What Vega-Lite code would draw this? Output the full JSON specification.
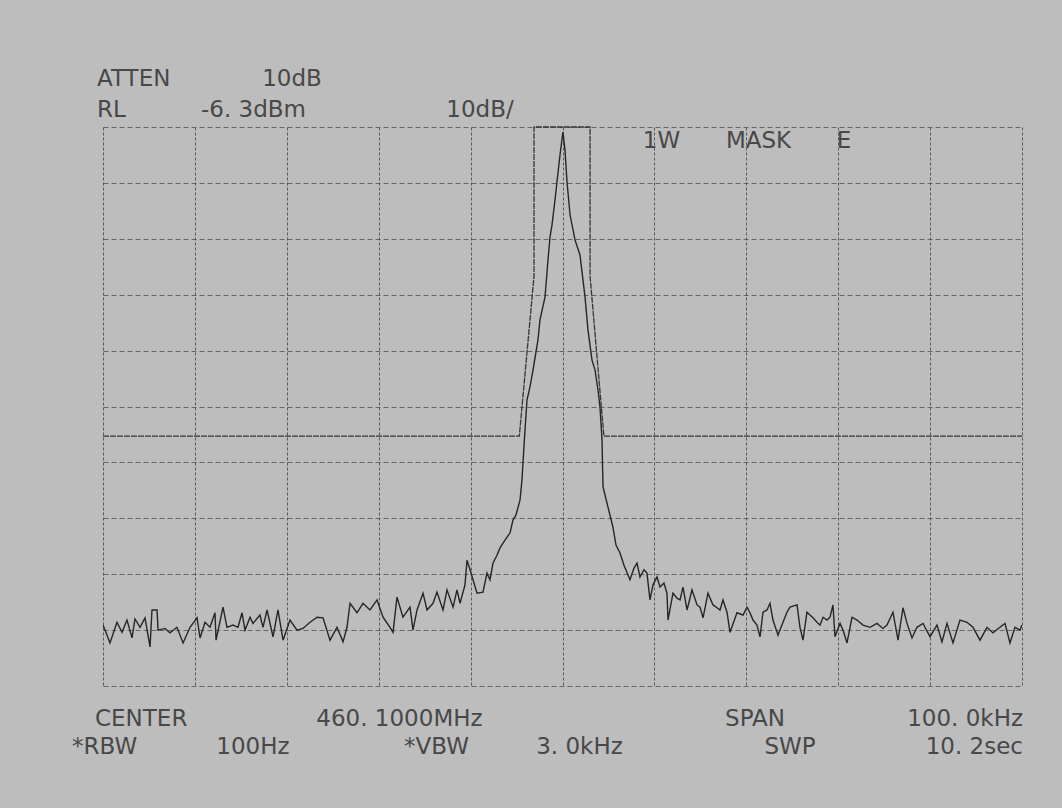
{
  "$schema": "https://vega.github.io/schema/vega-lite/v6.json",
  "width": 919,
  "height": 559,
  "autosize": "none",
  "padding": {"left": 103, "top": 127, "right": 40, "bottom": 122},
  "background": "#bdbdbd",
  "config": {
    "view": {"stroke": null},
    "text": {"font": "DejaVu Sans", "fontSize": 23, "color": "#484848", "baseline": "alphabetic"}
  },
  "datasets": {
    "trace": [
      {"khz": -50.00, "dbm": -95.4}, {"khz": -49.78, "dbm": -96.3}, {"khz": -49.24, "dbm": -98.6}, {"khz": -48.48, "dbm": -94.9},
      {"khz": -47.93, "dbm": -96.7}, {"khz": -47.39, "dbm": -94.5}, {"khz": -46.84, "dbm": -97.7}, {"khz": -46.52, "dbm": -94.3},
      {"khz": -45.97, "dbm": -95.8}, {"khz": -45.43, "dbm": -94.1}, {"khz": -44.88, "dbm": -99.3}, {"khz": -44.67, "dbm": -92.7},
      {"khz": -44.12, "dbm": -92.7}, {"khz": -44.01, "dbm": -96.3}, {"khz": -43.25, "dbm": -96.0}, {"khz": -42.71, "dbm": -96.8},
      {"khz": -41.95, "dbm": -95.8}, {"khz": -41.29, "dbm": -98.6}, {"khz": -40.53, "dbm": -95.8}, {"khz": -39.77, "dbm": -94.1},
      {"khz": -39.44, "dbm": -97.7}, {"khz": -38.90, "dbm": -94.9}, {"khz": -38.36, "dbm": -95.8}, {"khz": -37.81, "dbm": -93.2},
      {"khz": -37.70, "dbm": -98.1}, {"khz": -36.94, "dbm": -92.2}, {"khz": -36.51, "dbm": -95.8}, {"khz": -35.85, "dbm": -95.4},
      {"khz": -35.31, "dbm": -95.8}, {"khz": -34.87, "dbm": -93.2}, {"khz": -34.55, "dbm": -96.3}, {"khz": -34.00, "dbm": -94.0},
      {"khz": -33.68, "dbm": -95.1}, {"khz": -32.92, "dbm": -93.6}, {"khz": -32.59, "dbm": -95.8}, {"khz": -32.15, "dbm": -92.7},
      {"khz": -31.50, "dbm": -97.5}, {"khz": -30.96, "dbm": -92.7}, {"khz": -30.41, "dbm": -98.1}, {"khz": -29.65, "dbm": -94.5},
      {"khz": -28.89, "dbm": -96.3}, {"khz": -28.24, "dbm": -96.0}, {"khz": -27.47, "dbm": -94.9}, {"khz": -26.71, "dbm": -94.0},
      {"khz": -26.06, "dbm": -94.1}, {"khz": -25.30, "dbm": -98.1}, {"khz": -24.54, "dbm": -95.8}, {"khz": -23.88, "dbm": -98.4},
      {"khz": -23.45, "dbm": -95.8}, {"khz": -23.12, "dbm": -91.5}, {"khz": -22.36, "dbm": -93.2}, {"khz": -21.71, "dbm": -91.5},
      {"khz": -20.95, "dbm": -92.7}, {"khz": -20.18, "dbm": -90.9}, {"khz": -19.53, "dbm": -94.0}, {"khz": -18.77, "dbm": -95.8},
      {"khz": -18.44, "dbm": -96.7}, {"khz": -18.01, "dbm": -90.4}, {"khz": -17.36, "dbm": -94.0}, {"khz": -16.59, "dbm": -92.2},
      {"khz": -16.27, "dbm": -96.3}, {"khz": -15.83, "dbm": -92.7}, {"khz": -15.18, "dbm": -89.7}, {"khz": -14.74, "dbm": -92.7},
      {"khz": -14.09, "dbm": -91.5}, {"khz": -13.66, "dbm": -89.5}, {"khz": -13.00, "dbm": -92.7}, {"khz": -12.57, "dbm": -89.1},
      {"khz": -11.91, "dbm": -92.2}, {"khz": -11.48, "dbm": -89.1}, {"khz": -11.15, "dbm": -91.5}, {"khz": -10.61, "dbm": -88.2},
      {"khz": -10.39, "dbm": -83.8}, {"khz": -10.06, "dbm": -85.5}, {"khz": -9.74, "dbm": -87.3}, {"khz": -9.30, "dbm": -89.7},
      {"khz": -8.65, "dbm": -89.5}, {"khz": -8.22, "dbm": -86.1}, {"khz": -7.89, "dbm": -87.3}, {"khz": -7.56, "dbm": -84.3},
      {"khz": -7.13, "dbm": -82.9}, {"khz": -6.80, "dbm": -81.6}, {"khz": -6.26, "dbm": -80.2}, {"khz": -5.71, "dbm": -78.9},
      {"khz": -5.39, "dbm": -76.6}, {"khz": -5.06, "dbm": -75.7}, {"khz": -4.62, "dbm": -73.0}, {"khz": -4.41, "dbm": -69.4},
      {"khz": -4.30, "dbm": -66.4}, {"khz": -4.08, "dbm": -60.5}, {"khz": -3.86, "dbm": -55.1}, {"khz": -3.54, "dbm": -52.8},
      {"khz": -3.21, "dbm": -49.8}, {"khz": -2.67, "dbm": -44.4}, {"khz": -2.45, "dbm": -40.8}, {"khz": -1.90, "dbm": -36.7},
      {"khz": -1.58, "dbm": -30.1}, {"khz": -1.36, "dbm": -26.0}, {"khz": -1.14, "dbm": -23.8}, {"khz": -0.82, "dbm": -19.4},
      {"khz": -0.60, "dbm": -16.1}, {"khz": -0.27, "dbm": -11.3}, {"khz": 0.05, "dbm": -7.2}, {"khz": 0.27, "dbm": -10.4},
      {"khz": 0.49, "dbm": -16.1}, {"khz": 0.82, "dbm": -22.0}, {"khz": 1.36, "dbm": -26.5}, {"khz": 1.90, "dbm": -29.2},
      {"khz": 2.45, "dbm": -36.7}, {"khz": 2.77, "dbm": -42.6}, {"khz": 3.21, "dbm": -48.0}, {"khz": 3.54, "dbm": -49.8},
      {"khz": 3.86, "dbm": -53.3}, {"khz": 4.08, "dbm": -56.4}, {"khz": 4.30, "dbm": -62.3}, {"khz": 4.35, "dbm": -66.4},
      {"khz": 4.41, "dbm": -70.7}, {"khz": 4.95, "dbm": -74.3}, {"khz": 5.49, "dbm": -77.9}, {"khz": 5.82, "dbm": -81.1},
      {"khz": 6.26, "dbm": -82.5}, {"khz": 6.69, "dbm": -84.7}, {"khz": 7.34, "dbm": -87.3}, {"khz": 7.78, "dbm": -85.2},
      {"khz": 8.11, "dbm": -84.3}, {"khz": 8.43, "dbm": -86.8}, {"khz": 8.87, "dbm": -85.5}, {"khz": 9.19, "dbm": -86.1},
      {"khz": 9.52, "dbm": -90.9}, {"khz": 9.85, "dbm": -88.2}, {"khz": 10.28, "dbm": -86.8}, {"khz": 10.61, "dbm": -88.6},
      {"khz": 11.04, "dbm": -87.9}, {"khz": 11.37, "dbm": -89.7}, {"khz": 11.48, "dbm": -94.5}, {"khz": 12.02, "dbm": -89.7},
      {"khz": 12.46, "dbm": -90.6}, {"khz": 12.79, "dbm": -90.9}, {"khz": 13.11, "dbm": -88.6}, {"khz": 13.55, "dbm": -92.7},
      {"khz": 13.87, "dbm": -90.6}, {"khz": 14.09, "dbm": -89.1}, {"khz": 14.64, "dbm": -91.8}, {"khz": 14.96, "dbm": -92.2},
      {"khz": 15.29, "dbm": -94.1}, {"khz": 15.83, "dbm": -89.7}, {"khz": 16.38, "dbm": -91.8}, {"khz": 16.81, "dbm": -92.3},
      {"khz": 17.14, "dbm": -92.7}, {"khz": 17.46, "dbm": -90.9}, {"khz": 17.90, "dbm": -93.1}, {"khz": 18.23, "dbm": -96.7},
      {"khz": 18.99, "dbm": -93.2}, {"khz": 19.64, "dbm": -93.6}, {"khz": 20.08, "dbm": -92.2}, {"khz": 20.40, "dbm": -93.2},
      {"khz": 20.73, "dbm": -94.5}, {"khz": 21.16, "dbm": -95.4}, {"khz": 21.49, "dbm": -97.5}, {"khz": 21.82, "dbm": -93.1},
      {"khz": 22.25, "dbm": -92.7}, {"khz": 22.58, "dbm": -91.5}, {"khz": 22.90, "dbm": -94.5}, {"khz": 23.45, "dbm": -97.2},
      {"khz": 23.99, "dbm": -94.9}, {"khz": 24.43, "dbm": -93.1}, {"khz": 24.75, "dbm": -92.2}, {"khz": 25.52, "dbm": -91.8},
      {"khz": 25.84, "dbm": -95.8}, {"khz": 26.17, "dbm": -98.1}, {"khz": 26.60, "dbm": -93.1}, {"khz": 27.26, "dbm": -94.1},
      {"khz": 27.69, "dbm": -94.9}, {"khz": 28.02, "dbm": -95.4}, {"khz": 28.35, "dbm": -94.0}, {"khz": 28.78, "dbm": -94.5},
      {"khz": 29.11, "dbm": -94.0}, {"khz": 29.43, "dbm": -91.8}, {"khz": 29.65, "dbm": -97.5}, {"khz": 30.20, "dbm": -95.1},
      {"khz": 30.52, "dbm": -96.3}, {"khz": 30.96, "dbm": -98.6}, {"khz": 31.50, "dbm": -94.0}, {"khz": 32.05, "dbm": -94.5},
      {"khz": 32.70, "dbm": -95.4}, {"khz": 33.46, "dbm": -95.8}, {"khz": 34.22, "dbm": -95.1}, {"khz": 34.87, "dbm": -96.0},
      {"khz": 35.31, "dbm": -95.4}, {"khz": 35.96, "dbm": -93.1}, {"khz": 36.51, "dbm": -98.1}, {"khz": 37.05, "dbm": -92.3},
      {"khz": 37.49, "dbm": -95.1}, {"khz": 38.03, "dbm": -97.7}, {"khz": 38.57, "dbm": -95.8}, {"khz": 39.23, "dbm": -95.1},
      {"khz": 39.99, "dbm": -97.5}, {"khz": 40.75, "dbm": -95.4}, {"khz": 41.29, "dbm": -98.4}, {"khz": 41.84, "dbm": -95.1},
      {"khz": 42.49, "dbm": -98.6}, {"khz": 43.25, "dbm": -94.5}, {"khz": 44.01, "dbm": -94.9}, {"khz": 44.67, "dbm": -95.8},
      {"khz": 45.43, "dbm": -98.1}, {"khz": 46.19, "dbm": -95.8}, {"khz": 46.84, "dbm": -96.8}, {"khz": 47.60, "dbm": -95.8},
      {"khz": 48.15, "dbm": -95.1}, {"khz": 48.69, "dbm": -98.6}, {"khz": 49.24, "dbm": -95.8}, {"khz": 49.78, "dbm": -96.3},
      {"khz": 50.00, "dbm": -95.4}
    ],
    "mask": [
      {"khz": -50.0, "dbm": -61.6}, {"khz": -4.7, "dbm": -61.6}, {"khz": -3.1, "dbm": -33.0}, {"khz": -3.1, "dbm": -6.3},
      {"khz": 3.0, "dbm": -6.3}, {"khz": 3.0, "dbm": -33.0}, {"khz": 4.5, "dbm": -61.6}, {"khz": 50.0, "dbm": -61.6}
    ],
    "labels_left": [
      {"label": "ATTEN", "khz": -50.65, "dbm": 1.03},
      {"label": "RL", "khz": -50.65, "dbm": -4.51},
      {"label": "CENTER", "khz": -50.87, "dbm": -113.45},
      {"label": "*RBW", "khz": -53.37, "dbm": -118.46}
    ],
    "labels_center": [
      {"label": "10dB", "khz": -29.43, "dbm": 1.03},
      {"label": "-6. 3dBm", "khz": -33.62, "dbm": -4.51},
      {"label": "10dB/", "khz": -8.98, "dbm": -4.51},
      {"label": "1W", "khz": 10.77, "dbm": -10.06},
      {"label": "MASK", "khz": 21.33, "dbm": -10.06},
      {"label": "E", "khz": 30.63, "dbm": -10.06},
      {"label": "460. 1000MHz", "khz": -17.74, "dbm": -113.45},
      {"label": "SPAN", "khz": 20.95, "dbm": -113.45},
      {"label": "100Hz", "khz": -33.68, "dbm": -118.46},
      {"label": "*VBW", "khz": -13.71, "dbm": -118.46},
      {"label": "3. 0kHz", "khz": 1.85, "dbm": -118.46},
      {"label": "SWP", "khz": 24.76, "dbm": -118.46}
    ],
    "labels_right": [
      {"label": "100. 0kHz", "khz": 50.11, "dbm": -113.45},
      {"label": "10. 2sec", "khz": 50.11, "dbm": -118.46}
    ]
  },
  "encoding": {
    "x": {
      "field": "khz", "type": "quantitative",
      "scale": {"domain": [-50, 50], "nice": false, "zero": false},
      "axis": {
        "values": [-50, -40, -30, -20, -10, 0, 10, 20, 30, 40, 50],
        "labels": false, "ticks": false, "domain": false, "title": null,
        "grid": true, "gridColor": "#404040", "gridDash": [3, 2], "gridWidth": 1, "gridOpacity": 0.8
      }
    },
    "y": {
      "field": "dbm", "type": "quantitative",
      "scale": {"domain": [-106.3, -6.3], "nice": false, "zero": false},
      "axis": {
        "values": [-106.3, -96.3, -86.3, -76.3, -66.3, -56.3, -46.3, -36.3, -26.3, -16.3, -6.3],
        "labels": false, "ticks": false, "domain": false, "title": null,
        "grid": true, "gridColor": "#454545", "gridDash": [5, 3], "gridWidth": 1, "gridOpacity": 0.7
      }
    }
  },
  "layer": [
    {
      "data": {"name": "mask"},
      "mark": {"type": "line", "color": "#353535", "strokeWidth": 1.3, "strokeDash": [6, 1]},
      "encoding": {"order": {"value": null}}
    },
    {
      "data": {"name": "trace"},
      "mark": {"type": "line", "color": "#262626", "strokeWidth": 1.4, "clip": true},
      "encoding": {"order": {"value": null}}
    },
    {
      "data": {"name": "labels_left"},
      "mark": {"type": "text", "align": "left"},
      "encoding": {"text": {"field": "label"}}
    },
    {
      "data": {"name": "labels_center"},
      "mark": {"type": "text", "align": "center"},
      "encoding": {"text": {"field": "label"}}
    },
    {
      "data": {"name": "labels_right"},
      "mark": {"type": "text", "align": "right"},
      "encoding": {"text": {"field": "label"}}
    }
  ]
}
